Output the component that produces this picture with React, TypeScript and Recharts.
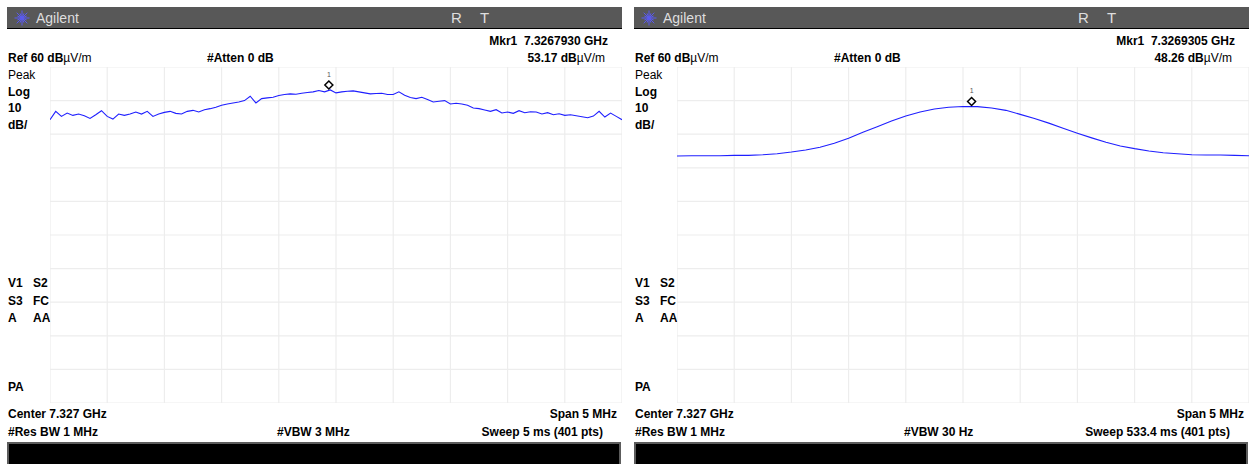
import React from "react";
import { LineChart, Line, XAxis, YAxis, CartesianGrid, ReferenceDot } from "recharts";

// Trace values (dBµV/m)
const LEFT_TRACE = [
  44.3, 46.8, 45.3, 46.3, 45.6, 46.0, 45.5, 44.7, 45.8, 47.0,
  45.3, 44.5, 46.0, 45.6, 46.0, 46.6, 46.0, 46.8, 45.3, 46.0,
  46.5, 46.8, 46.2, 46.0, 46.8, 47.1, 46.6, 47.3, 47.6, 48.0,
  48.6, 49.0, 49.3, 49.6, 50.0, 51.3, 49.3, 50.6, 50.8, 51.0,
  51.5, 51.8, 52.0, 51.9, 52.2, 52.4, 52.6, 53.0, 52.6, 53.17,
  52.3, 52.6, 52.8, 52.9, 52.6, 52.3, 52.0, 52.1, 52.2, 51.8,
  51.8, 52.6, 51.6, 50.9, 50.6, 51.0, 50.3, 49.6, 49.8, 50.0,
  49.0, 49.2, 49.0, 48.6, 47.8, 47.6, 47.2, 46.8, 47.3, 46.3,
  46.6, 46.2, 47.0, 46.4, 46.7, 46.6, 46.0, 46.4, 45.8, 46.1,
  45.6, 45.8, 45.5, 45.2, 44.9, 45.4, 46.8, 45.1, 46.3, 45.3,
  44.3,
];
const RIGHT_TRACE = [
  33.5, 33.6, 33.6, 33.6, 33.7, 33.7, 33.9, 34.2, 34.7, 35.3,
  36.1, 37.3, 38.8, 40.6, 42.2, 43.9, 45.4, 46.6, 47.5, 48.0,
  48.26, 48.2, 47.8, 47.1, 45.9, 44.7, 43.3, 41.8, 40.3, 38.9,
  37.6, 36.5, 35.7, 35.0, 34.5, 34.2, 33.9, 33.8, 33.8, 33.7,
  33.6,
];
const SAMPLE_STEPS = [4, 10];
const MARKER_IDX = [195, 206];
const MARKER_LEVELS = ["53.17", "48.26"];
const MARKER_FREQS = ["7.3267930 GHz", "7.3269305 GHz"];
const VBW_LABELS = ["#VBW 3 MHz", "#VBW 30 Hz"];
const SWEEP_LABELS = ["Sweep 5 ms (401 pts)", "Sweep 533.4 ms (401 pts)"];
const X_TICKS = [0, 40, 80, 120, 160, 200, 240, 280, 320, 360, 400];
const Y_TICKS = [-40, -30, -20, -10, 0, 10, 20, 30, 40, 50, 60];

const FONT = '"Liberation Sans", Arial, sans-serif';

type TProps = { x: number; y: number; end?: boolean; bold?: boolean; size?: number; color?: string; children: React.ReactNode };
function T({ x, y, end, bold, size = 12, color = "#000", children }: TProps) {
  return (
    <div
      style={{
        position: "absolute",
        left: x,
        top: y - 7,
        lineHeight: "14px",
        fontSize: size,
        fontWeight: bold ? 700 : 400,
        whiteSpace: "nowrap",
        color,
        transform: end ? "translateX(-100%)" : undefined,
        fontFamily: FONT,
      }}
    >
      {children}
    </div>
  );
}

function Logo() {
  const rays = [0, 22.5, 45, 67.5, 90, 112.5, 135, 157.5];
  return (
    <svg width={18} height={18} style={{ position: "absolute", left: 13, top: 9 }}>
      {rays.map((a) => {
        const r = (a * Math.PI) / 180;
        const len = a % 45 === 0 ? 7.5 : 5;
        return (
          <line
            key={a}
            x1={9 - Math.cos(r) * len}
            y1={9 - Math.sin(r) * len}
            x2={9 + Math.cos(r) * len}
            y2={9 + Math.sin(r) * len}
            stroke="#5a5af0"
            strokeWidth={1}
          />
        );
      })}
    </svg>
  );
}

const markerShape = (props: any) => {
  const { cx, cy } = props;
  const c = cy - 5;
  return (
    <g>
      <path d={`M${cx},${c - 4} L${cx + 4},${c} L${cx},${c + 4} L${cx - 4},${c} Z`} fill="#fff" stroke="#000" strokeWidth={1.5} />
      <text x={cx} y={c - 8} textAnchor="middle" fontSize={7} fill="#555" fontFamily={FONT}>1</text>
    </g>
  );
};

function Panel({ idx }: { idx: number }) {
  const ox = idx * 627;
  const trace = idx === 0 ? LEFT_TRACE : RIGHT_TRACE;
  const step = SAMPLE_STEPS[idx];
  const data = trace.map((v, k) => ({ i: k * step, v }));
  return (
    <div style={{ position: "absolute", left: ox, top: 0, width: 624, height: 464 }}>
      <div style={{ position: "absolute", left: 7, top: 7, width: 615, height: 21, background: "#585858", borderBottom: "1px solid #000" }} />
      <Logo />
      <T x={36} y={18} size={14} color="#dedede">Agilent</T>
      <T x={451} y={18} size={15} color="#dedede">R</T>
      <T x={480} y={18} size={15} color="#dedede">T</T>

      <T x={608} y={41} end bold>{"Mkr1\u00a0\u00a0" + MARKER_FREQS[idx]}</T>
      <T x={8} y={58} bold>Ref 60 dB<span style={{ fontWeight: 400 }}>µV/m</span></T>
      <T x={207} y={58} bold>#Atten 0 dB</T>
      <T x={605} y={58} end bold>{MARKER_LEVELS[idx] + " dB"}<span style={{ fontWeight: 400 }}>µV/m</span></T>
      <T x={8} y={75}>Peak</T>
      <T x={8} y={92} bold>Log</T>
      <T x={8} y={108} bold>10</T>
      <T x={8} y={125} bold>dB/</T>
      <T x={8} y={283} bold>V1</T>
      <T x={33} y={283} bold>S2</T>
      <T x={8} y={300.5} bold>S3</T>
      <T x={33} y={300.5} bold>FC</T>
      <T x={8} y={318} bold>A</T>
      <T x={33} y={318} bold>AA</T>
      <T x={8} y={387} bold>PA</T>
      <T x={8} y={414} bold>Center 7.327 GHz</T>
      <T x={617} y={414} end bold>Span 5 MHz</T>
      <T x={8} y={432} bold>#Res BW 1 MHz</T>
      <T x={277} y={432} bold>{VBW_LABELS[idx]}</T>
      <T x={603} y={432} end bold>{SWEEP_LABELS[idx]}</T>

      <div style={{ position: "absolute", left: 7, top: 442, width: 610, height: 30, background: "#000", border: "2px solid #5c5c5c" }} />

      <div style={{ position: "absolute", left: 50, top: 67 }}>
        <LineChart width={572} height={336} data={data} margin={{ top: 0, right: 0, bottom: 0, left: 0 }} style={{ overflow: "visible" }}>
          <CartesianGrid stroke="#ededed" strokeWidth={1.2} />
          <XAxis dataKey="i" type="number" domain={[0, 400]} ticks={X_TICKS} hide />
          <YAxis type="number" domain={[-40, 60]} ticks={Y_TICKS} hide allowDataOverflow />
          <Line type="linear" dataKey="v" stroke="#1f1fff" strokeWidth={1.1} dot={false} isAnimationActive={false} />
          <ReferenceDot x={MARKER_IDX[idx]} y={parseFloat(MARKER_LEVELS[idx])} ifOverflow="visible" shape={markerShape} />
        </LineChart>
      </div>
    </div>
  );
}

export default function App() {
  return (
    <div style={{ position: "absolute", left: 0, top: 0, width: 1251, height: 464, background: "#fff", overflow: "hidden", fontFamily: FONT }}>
      <Panel idx={0} />
      <Panel idx={1} />
    </div>
  );
}
